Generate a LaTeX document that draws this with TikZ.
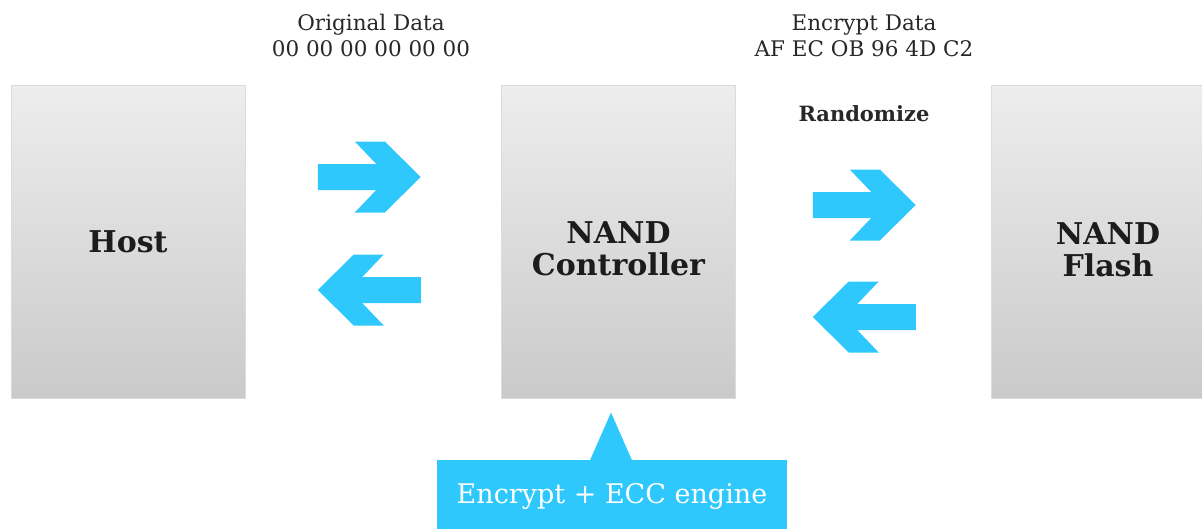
\documentclass[tikz,border=0pt]{standalone}
\usepackage{fontspec}
\setmainfont{DejaVu Serif}
\usetikzlibrary{calc}
\definecolor{skyblue}{RGB}{46,200,253}
\definecolor{boxtop}{RGB}{237,237,237}
\definecolor{boxbot}{RGB}{202,202,202}
\definecolor{boxline}{RGB}{220,220,220}
\definecolor{ink}{RGB}{28,28,28}
\definecolor{labelink}{RGB}{40,40,40}

\begin{document}
\begin{tikzpicture}[x=1pt,y=-1pt,
  unitbox/.style={rectangle, minimum width=234pt, minimum height=313pt,
    draw=boxline, line width=1pt, top color=boxtop, bottom color=boxbot,
    inner sep=0pt},
  unitname/.style={align=center, text=ink, inner sep=0pt,
    font=\fontsize{30}{32}\selectfont\bfseries},
  toplabel/.style={align=center, text=labelink, inner sep=0pt,
    font=\fontsize{21.5}{26}\selectfont},
  blockarrow/.pic={
    \fill[skyblue] (51.5,0) -- (15.5,-35.5) -- (-14.5,-35.5) -- (7,-13)
      -- (-51.5,-13) -- (-51.5,13) -- (7,13) -- (-14.5,35.5)
      -- (15.5,35.5) -- cycle;
  },
  callout/.style={rectangle, fill=skyblue, text=white, inner sep=0pt,
    minimum width=350pt, minimum height=72pt,
    font=\fontsize{27}{27}\selectfont}
]
\useasboundingbox (0,0) rectangle (1202,528);
\clip (0,0) rectangle (1202,528);

% the three units
\node[unitbox] (host)  at (128,241.5)  {};
\node[unitbox] (ctrl)  at (618.5,241.5) {};
\node[unitbox] (flash) at (1108,241.5) {};
\node[unitname] (hostname)  at (host.center)  {Host};
\node[unitname] (ctrlname)  at ($(ctrl.center)+(0,7)$) {NAND\\Controller};
\node[unitname] (flashname) at ($(flash.center)+(0,8)$) {NAND\\Flash};

% data labels above the links
\node[toplabel] (orig) at (371,35) {Original Data\\00 00 00 00 00 00};
\node[toplabel] (enc)  at (864,36) {Encrypt Data\\AF EC OB 96 4D C2};
\node[toplabel, font=\fontsize{21}{24}\selectfont\bfseries] (rand) at (864,114) {Randomize};

% block arrows between the units
\coordinate (lmid) at ($(host.east)!0.5!(ctrl.west)$);
\coordinate (rmid) at ($(ctrl.east)!0.5!(flash.west)$);
\pic at ($(lmid)+(-4,-64.5)$) {blockarrow};
\pic[xscale=-1] at ($(lmid)+(-4,48.5)$) {blockarrow};
\pic at ($(rmid)+(1,-36.5)$) {blockarrow};
\pic[xscale=-1] at ($(rmid)+(1,75.5)$) {blockarrow};

% encryption engine callout pointing at the controller
\node[callout] (engine) at (612,496) {Encrypt + ECC engine};
\coordinate (apex) at ($(ctrl.south)+(-7.5,14)$);
\fill[skyblue] (apex) -- ($(engine.north)+(-22,0.5)$) -- ($(engine.north)+(20,0.5)$) -- cycle;
\end{tikzpicture}
\end{document}
